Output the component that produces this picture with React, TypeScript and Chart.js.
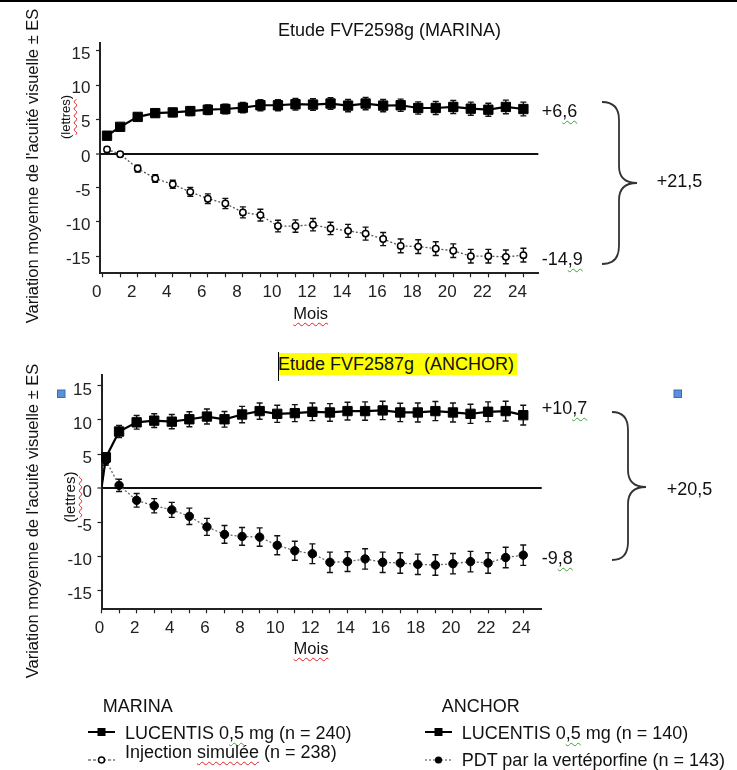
import React, { useEffect, useRef } from 'react';
import { Chart, registerables } from 'chart.js';

Chart.register(...registerables);

const FONT = 'Arial, "Liberation Sans", sans-serif';

// ---------- DATA ----------
const marinaMonths = [0.25, 1, 2, 3, 4, 5, 6, 7, 8, 9, 10, 11, 12, 13, 14, 15, 16, 17, 18, 19, 20, 21, 22, 23, 24];
const marinaLucentis = [2.6, 3.9, 5.35, 5.9, 6.0, 6.2, 6.4, 6.5, 6.7, 7.05, 7.05, 7.2, 7.15, 7.3, 7.0, 7.3, 7.0, 7.05, 6.65, 6.65, 6.8, 6.55, 6.4, 6.8, 6.5];
const marinaLucentisSE = [0.3, 0.4, 0.5, 0.55, 0.6, 0.65, 0.7, 0.7, 0.75, 0.8, 0.8, 0.85, 0.85, 0.85, 0.9, 0.9, 0.9, 0.9, 0.9, 0.95, 0.95, 0.95, 0.95, 1.0, 1.0];
const marinaSham = [0.6, -0.1, -2.2, -3.65, -4.5, -5.6, -6.6, -7.3, -8.6, -9.0, -10.6, -10.6, -10.4, -10.95, -11.3, -11.7, -12.5, -13.5, -13.6, -13.9, -14.2, -15.0, -15.0, -15.1, -14.85];
const marinaShamSE = [0.3, 0.35, 0.5, 0.55, 0.6, 0.65, 0.7, 0.75, 0.8, 0.85, 0.85, 0.9, 0.9, 0.9, 0.95, 0.95, 0.95, 1.0, 1.0, 1.0, 1.0, 1.0, 1.0, 1.0, 1.0];

const anchorMonths = [0, 0.25, 1, 2, 3, 4, 5, 6, 7, 8, 9, 10, 11, 12, 13, 14, 15, 16, 17, 18, 19, 20, 21, 22, 23, 24];
const anchorLucentis = [0, 4.5, 8.3, 9.65, 9.9, 9.75, 10.1, 10.5, 10.1, 10.8, 11.3, 10.9, 11.0, 11.2, 11.1, 11.3, 11.3, 11.4, 11.1, 11.1, 11.3, 11.1, 10.9, 11.2, 11.3, 10.7];
const anchorLucentisSE = [0, 0.7, 0.9, 1.0, 1.0, 1.05, 1.1, 1.1, 1.15, 1.2, 1.2, 1.25, 1.25, 1.3, 1.3, 1.3, 1.35, 1.35, 1.35, 1.4, 1.4, 1.4, 1.4, 1.45, 1.45, 1.45];
const anchorPDT = [0, 4.05, 0.4, -1.8, -2.6, -3.2, -4.15, -5.7, -6.8, -7.1, -7.2, -8.4, -9.2, -9.65, -10.9, -10.8, -10.4, -10.9, -11.0, -11.2, -11.3, -11.1, -10.8, -11.0, -10.2, -9.85];
const anchorPDTSE = [0, 0.7, 0.9, 1.0, 1.05, 1.1, 1.2, 1.25, 1.3, 1.3, 1.35, 1.4, 1.4, 1.45, 1.5, 1.45, 1.5, 1.5, 1.5, 1.5, 1.5, 1.5, 1.5, 1.5, 1.5, 1.5];

const yTickValues = [-15, -10, -5, 0, 5, 10, 15];
const xTickValues = [0, 1, 2, 3, 4, 5, 6, 7, 8, 9, 10, 11, 12, 13, 14, 15, 16, 17, 18, 19, 20, 21, 22, 23, 24];

// ---------- PLUGINS ----------
const errorBarPlugin = {
  id: 'errorBars',
  beforeDatasetsDraw(chart: any) {
    const ctx = chart.ctx;
    const yScale = chart.scales.y;
    ctx.save();
    ctx.strokeStyle = '#111';
    ctx.lineWidth = 1.4;
    chart.data.datasets.forEach((ds: any, i: number) => {
      const meta = chart.getDatasetMeta(i);
      const errs: number[] = ds.errors || [];
      meta.data.forEach((pt: any, j: number) => {
        const e = errs[j];
        if (!e) return;
        const v = ds.data[j].y;
        const x = pt.x;
        const y1 = yScale.getPixelForValue(v + e);
        const y2 = yScale.getPixelForValue(v - e);
        ctx.beginPath();
        ctx.moveTo(x, y1);
        ctx.lineTo(x, y2);
        ctx.moveTo(x - 3, y1);
        ctx.lineTo(x + 3, y1);
        ctx.moveTo(x - 3, y2);
        ctx.lineTo(x + 3, y2);
        ctx.stroke();
      });
    });
    ctx.restore();
  },
};

type Series = { values: number[]; se: number[]; kind: 'square' | 'open' | 'dot' };

function buildConfig(p: {
  months: number[];
  series: Series[];
  xMin: number; xMax: number; yMin: number; yMax: number;
  padTop: number; padRight: number; yWidth: number; xHeight: number;
  xLabelOffset: number; yLabelOffset: number;
}): any {
  const months = p.months;
  const datasets = p.series.map((s) => {
    const base: any = {
      data: months.map((m, i) => ({ x: m, y: s.values[i] })),
      errors: s.se,
      tension: 0,
      fill: false,
    };
    if (s.kind === 'square') {
      return {
        ...base,
        borderColor: '#000',
        borderWidth: 2.2,
        pointStyle: 'rect',
        pointRadius: (c: any) => (months[c.dataIndex] === 0 ? 0 : 6.6),
        pointBackgroundColor: '#000',
        pointBorderColor: '#000',
        pointBorderWidth: 1,
      };
    }
    if (s.kind === 'open') {
      return {
        ...base,
        borderColor: '#555',
        borderWidth: 1.3,
        borderDash: [2, 2],
        pointStyle: 'circle',
        pointRadius: 3.2,
        pointBackgroundColor: '#fff',
        pointBorderColor: '#000',
        pointBorderWidth: 1.5,
      };
    }
    return {
      ...base,
      borderColor: '#666',
      borderWidth: 1.3,
      borderDash: [2, 2],
      pointStyle: 'circle',
      pointRadius: (c: any) => (months[c.dataIndex] === 0 ? 0 : 4.2),
      pointBackgroundColor: '#000',
      pointBorderColor: '#000',
      pointBorderWidth: 1,
    };
  });

  return {
    type: 'line',
    data: { datasets },
    plugins: [errorBarPlugin],
    options: {
      animation: false,
      responsive: false,
      events: [],
      layout: { padding: { left: 0, top: p.padTop, right: p.padRight, bottom: 0 } },
      plugins: { legend: { display: false }, tooltip: { enabled: false }, title: { display: false } },
      scales: {
        x: {
          type: 'linear',
          min: p.xMin,
          max: p.xMax,
          afterBuildTicks: (s: any) => { s.ticks = xTickValues.map((v) => ({ value: v })); },
          afterFit: (s: any) => { s.height = p.xHeight; },
          ticks: {
            autoSkip: false,
            maxRotation: 0,
            minRotation: 0,
            padding: 5,
            labelOffset: p.xLabelOffset,
            color: '#222',
            font: { family: FONT, size: 17 },
            callback: (v: any) => (Number(v) % 2 === 0 ? String(v) : ''),
          },
          grid: { drawOnChartArea: false, drawTicks: true, tickLength: 4, color: '#222', tickColor: '#222', tickWidth: 1.2 },
          border: { display: true, color: '#222', width: 2 },
          title: { display: false },
        },
        y: {
          type: 'linear',
          min: p.yMin,
          max: p.yMax,
          afterBuildTicks: (s: any) => { s.ticks = yTickValues.map((v) => ({ value: v })); },
          afterFit: (s: any) => { s.width = p.yWidth; },
          ticks: {
            padding: 5.5,
            labelOffset: p.yLabelOffset,
            color: '#222',
            font: { family: FONT, size: 17 },
            callback: (v: any) => String(v),
          },
          grid: {
            drawOnChartArea: true,
            drawTicks: true,
            tickLength: 4,
            color: (c: any) => (c.tick && c.tick.value === 0 ? '#111' : 'rgba(0,0,0,0)'),
            lineWidth: (c: any) => (c.tick && c.tick.value === 0 ? 2 : 1),
            tickColor: '#222',
            tickWidth: 1.2,
          },
          border: { display: true, color: '#222', width: 2 },
          title: { display: false },
        },
      },
    },
  };
}

function LineChart({ top, height, make }: { top: number; height: number; make: () => any }) {
  const ref = useRef<HTMLCanvasElement>(null);
  useEffect(() => {
    const chart = new Chart(ref.current as HTMLCanvasElement, make());
    return () => chart.destroy();
  }, []);
  return (
    <canvas
      ref={ref}
      width={737}
      height={height}
      style={{ position: 'absolute', left: 0, top, width: 737, height }}
    />
  );
}

// ---------- TEXT HELPERS ----------
const greenSq: React.CSSProperties = {
  textDecorationLine: 'underline',
  textDecorationStyle: 'wavy',
  textDecorationColor: '#3aa53a',
  textDecorationThickness: '1px',
  textUnderlineOffset: '3px',
};
const redSq: React.CSSProperties = {
  textDecorationLine: 'underline',
  textDecorationStyle: 'wavy',
  textDecorationColor: '#e02020',
  textDecorationThickness: '1px',
  textUnderlineOffset: '3px',
};

function Txt({ x, y, size = 18, center = false, rotate = false, children, style }: any) {
  let transform = center ? 'translate(-50%,-50%)' : 'translateY(-50%)';
  if (rotate) transform = 'translate(-50%,-50%) rotate(-90deg)';
  return (
    <div
      style={{
        position: 'absolute',
        left: x,
        top: y,
        transform,
        fontFamily: FONT,
        fontSize: size,
        lineHeight: 1,
        whiteSpace: 'nowrap',
        color: '#111',
        ...style,
      }}
    >
      {children}
    </div>
  );
}

export default function App() {
  const makeTop = () =>
    buildConfig({
      months: marinaMonths,
      series: [
        { values: marinaLucentis, se: marinaLucentisSE, kind: 'square' },
        { values: marinaSham, se: marinaShamSE, kind: 'open' },
      ],
      xMin: -0.15, xMax: 24.85, yMin: -17.5, yMax: 16.1,
      padTop: 43.3, padRight: 198.7, yWidth: 100, xHeight: 340 - 273.3,
      xLabelOffset: -6, yLabelOffset: 3.5,
    });
  const makeBottom = () =>
    buildConfig({
      months: anchorMonths,
      series: [
        { values: anchorLucentis, se: anchorLucentisSE, kind: 'square' },
        { values: anchorPDT, se: anchorPDTSE, kind: 'dot' },
      ],
      xMin: 0, xMax: 25.05, yMin: -17.8, yMax: 16.6,
      padTop: 375 - 340, padRight: 737 - 541.7, yWidth: 101.5, xHeight: 670 - 609.3,
      xLabelOffset: -2, yLabelOffset: 4,
    });

  return (
    <div style={{ position: 'absolute', left: 0, top: 0, width: 737, height: 770, background: '#fff', overflow: 'hidden' }}>
      <LineChart top={0} height={340} make={makeTop} />
      <LineChart top={340} height={330} make={makeBottom} />

      <svg width={737} height={770} style={{ position: 'absolute', left: 0, top: 0, pointerEvents: 'none' }}>
        <rect x={0} y={0} width={737} height={2} fill="#000" />
        {/* braces */}
        <path d="M602,102 Q619,102 619,120 L619,166 Q619,183 637,183 Q619,183 619,200 L619,246 Q619,264 602,264" fill="none" stroke="#333" strokeWidth={1.8} />
        <path d="M612,412 Q628,412 628,430 L628,470 Q628,487 646,487 Q628,487 628,504 L628,542 Q628,560 612,560" fill="none" stroke="#333" strokeWidth={1.8} />
        {/* blue squares */}
        <rect x={57.5} y={390} width={7.5} height={7.5} fill="#5b8fd8" stroke="#3d6cb5" strokeWidth={1} />
        <rect x={674} y={390} width={7.5} height={7.5} fill="#5b8fd8" stroke="#3d6cb5" strokeWidth={1} />
        {/* legend markers */}
        <line x1={88} y1={732} x2={115} y2={732} stroke="#000" strokeWidth={2} />
        <rect x={97.5} y={728} width={8} height={8} fill="#000" />
        <line x1={88} y1={760} x2={115} y2={760} stroke="#333" strokeWidth={1.2} strokeDasharray="3,2" />
        <circle cx={101.5} cy={760} r={3} fill="#fff" stroke="#000" strokeWidth={1.5} />
        <line x1={425} y1={732} x2={452} y2={732} stroke="#000" strokeWidth={2} />
        <rect x={434.5} y={728} width={8} height={8} fill="#000" />
        <line x1={425} y1={760} x2={452} y2={760} stroke="#444" strokeWidth={1.2} strokeDasharray="2,2" />
        <circle cx={438.5} cy={760} r={3.6} fill="#000" />
      </svg>

      {/* titles */}
      <Txt x={278} y={30} size={18}>Etude FVF2598g (MARINA)</Txt>
      <div
        style={{
          position: 'absolute', left: 278, top: 353, height: 22, background: '#ffff00',
          fontFamily: FONT, fontSize: 18, lineHeight: '22px', whiteSpace: 'nowrap', color: '#111', paddingRight: 3,
        }}
      >
        Etude FVF2587g{'\u00a0'} (ANCHOR)
      </div>
      <div style={{ position: 'absolute', left: 277.5, top: 352, width: 1.5, height: 29, background: '#000' }} />

      {/* y axis titles */}
      <Txt x={31.7} y={166} size={16.5} rotate>Variation moyenne de l'acuité visuelle ± ES</Txt>
      <Txt x={64.5} y={117} size={13} rotate>(<span style={redSq}>lettres</span>)</Txt>
      <Txt x={31.7} y={521} size={16.5} rotate>Variation moyenne de l'acuité visuelle ± ES</Txt>
      <Txt x={69} y={497} size={15} rotate>(<span style={redSq}>lettres</span>)</Txt>

      {/* x axis titles */}
      <Txt x={310.7} y={313} size={16.5} center><span style={redSq}>Mois</span></Txt>
      <Txt x={311} y={648} size={16.5} center><span style={redSq}>Mois</span></Txt>

      {/* annotations */}
      <Txt x={541.7} y={111}>+6<span style={greenSq}>,6</span></Txt>
      <Txt x={541.7} y={259}>-14<span style={greenSq}>,9</span></Txt>
      <Txt x={656.7} y={181}>+21,5</Txt>
      <Txt x={541.7} y={408}>+10<span style={greenSq}>,7</span></Txt>
      <Txt x={541.7} y={558}>-9<span style={greenSq}>,8</span></Txt>
      <Txt x={666.7} y={489}>+20,5</Txt>

      {/* legend */}
      <Txt x={102.7} y={705.5}>MARINA</Txt>
      <Txt x={125} y={733}>LUCENTIS 0<span style={greenSq}>,5</span> mg (n = 240)</Txt>
      <Txt x={125} y={751.5}>Injection <span style={redSq}>simulée</span> (n = 238)</Txt>
      <Txt x={441.7} y={706}>ANCHOR</Txt>
      <Txt x={461.7} y={733}>LUCENTIS 0<span style={greenSq}>,5</span> mg (n = 140)</Txt>
      <Txt x={461.7} y={760}>PDT par la <span style={redSq}>vertéporfine</span> (n = 143)</Txt>
    </div>
  );
}
